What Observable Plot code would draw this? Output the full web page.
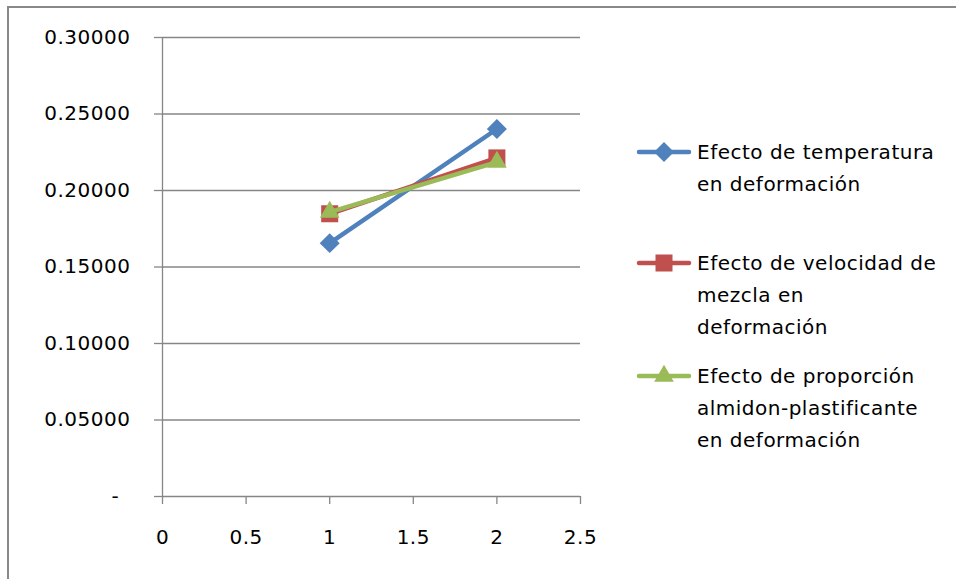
<!DOCTYPE html>
<html>
<head>
<meta charset="utf-8">
<script src="https://cdn.jsdelivr.net/npm/d3@7"></script>
<script src="https://cdn.jsdelivr.net/npm/@observablehq/plot@0.6"></script>
<style>
  html, body { margin: 0; padding: 0; background: #fff; }
  #chart { position: relative; width: 956px; height: 579px; overflow: hidden;
           font-family: "DejaVu Sans", sans-serif; }
  #frame { position: absolute; left: 7px; top: 6px; width: 1000px; height: 1000px;
           border: 2.5px solid #898989; box-sizing: border-box; }
  #plot { position: absolute; left: 0; top: 0; }
  .legend-item { position: absolute; left: 637px; height: 32px; }
  .legend-item svg { position: absolute; left: 0; top: 0; overflow: visible; }
  .legend-text { position: absolute; left: 60px; top: 0; white-space: nowrap;
                 font-size: 20px; line-height: 32px; letter-spacing: 0.5px; color: #000; }
</style>
</head>
<body>
<div id="chart">
  <div id="frame"></div>
  <div id="plot"></div>
</div>
<script>
// Series: effect on deformation at levels 1 and 2
const levels = [1, 2];
const seriesNames = [
  "Efecto de temperatura en deformación",
  "Efecto de velocidad de mezcla en deformación",
  "Efecto de proporción almidon-plastificante en deformación"
];
const temperatura = [0.1656, 0.2402];
const velocidad = [0.1848, 0.2213];
const proporcion = [0.1859, 0.2185];
const seriesValues = [temperatura, velocidad, proporcion];

// Legend lines as wrapped in the legend box
const legendLines = [
  ["Efecto de temperatura", "en deformación"],
  ["Efecto de velocidad de", "mezcla en", "deformación"],
  ["Efecto de proporción", "almidon-plastificante", "en deformación"]
];

// Axis ticks
const yTicks = [0, 0.05, 0.10, 0.15, 0.20, 0.25, 0.30];
const xTicks = [0, 0.5, 1, 1.5, 2, 2.5];

// Styling per series
const colors = ["#4F81BD", "#C0504D", "#9BBB59"];
const symbols = ["diamond2", "square", "triangle"];
const radii = [9, 9.6, 7.3];
const axisGray = "#868686";

const rows = seriesNames.flatMap((name, i) =>
  levels.map((x, j) => ({series: name, x, value: seriesValues[i][j]}))
);

const seriesMarks = seriesNames.flatMap((name, i) => {
  const data = rows.filter(d => d.series === name);
  return [
    Plot.line(data, {x: "x", y: "value", stroke: colors[i], strokeWidth: 4.5,
                     strokeLinecap: "round", strokeLinejoin: "round"}),
    Plot.dot(data, {x: "x", y: "value", fill: colors[i], stroke: "none",
                    symbol: symbols[i], r: radii[i]})
  ];
});

const chart = Plot.plot({
  width: 956,
  height: 579,
  marginLeft: 162,
  marginRight: 376,
  marginTop: 37,
  marginBottom: 83,
  x: {domain: [0, 2.5], label: null},
  y: {domain: [0, 0.3], label: null},
  style: {fontFamily: "DejaVu Sans", fontSize: "20px", letterSpacing: "0.5px",
          color: "#000", background: "transparent", overflow: "visible"},
  marks: [
    Plot.gridY(yTicks.filter(d => d > 0), {stroke: axisGray, strokeOpacity: 1, strokeWidth: 1.3}),
    Plot.axisY(yTicks, {tickSize: 8, tickPadding: 24, stroke: axisGray, strokeWidth: 1.3,
      fill: "#000", label: null,
      tickFormat: d => d === 0 ? "-\u00a0\u2009" : d.toFixed(5)}),
    Plot.ruleX([0], {stroke: axisGray, strokeWidth: 1.3}),
    Plot.ruleY([0], {stroke: axisGray, strokeWidth: 1.3}),
    Plot.axisX(xTicks, {tickSize: 8, tickPadding: 25, stroke: axisGray, strokeWidth: 1.3,
      fill: "#000", label: null, tickFormat: d => String(d)}),
    ...seriesMarks
  ]
});
document.getElementById("plot").appendChild(chart);

// Legend: line with marker, then wrapped label
const legendTops = [136, 247, 360];
const chartDiv = document.getElementById("chart");
seriesNames.forEach((name, i) => {
  const item = document.createElement("div");
  item.className = "legend-item";
  item.style.top = legendTops[i] + "px";
  const svg = d3.create("svg").attr("width", 54).attr("height", 32);
  svg.append("line")
    .attr("x1", 2).attr("x2", 52).attr("y1", 16).attr("y2", 16)
    .attr("stroke", colors[i]).attr("stroke-width", 4.5).attr("stroke-linecap", "round");
  const symbolType = [d3.symbolDiamond2, d3.symbolSquare, d3.symbolTriangle][i];
  svg.append("path")
    .attr("transform", "translate(27,16)")
    .attr("d", d3.symbol(symbolType, radii[i] * radii[i] * Math.PI)())
    .attr("fill", colors[i]);
  item.appendChild(svg.node());
  const text = document.createElement("div");
  text.className = "legend-text";
  legendLines[i].forEach(line => {
    const l = document.createElement("div");
    l.textContent = line;
    text.appendChild(l);
  });
  item.appendChild(text);
  chartDiv.appendChild(item);
});
</script>
</body>
</html>
